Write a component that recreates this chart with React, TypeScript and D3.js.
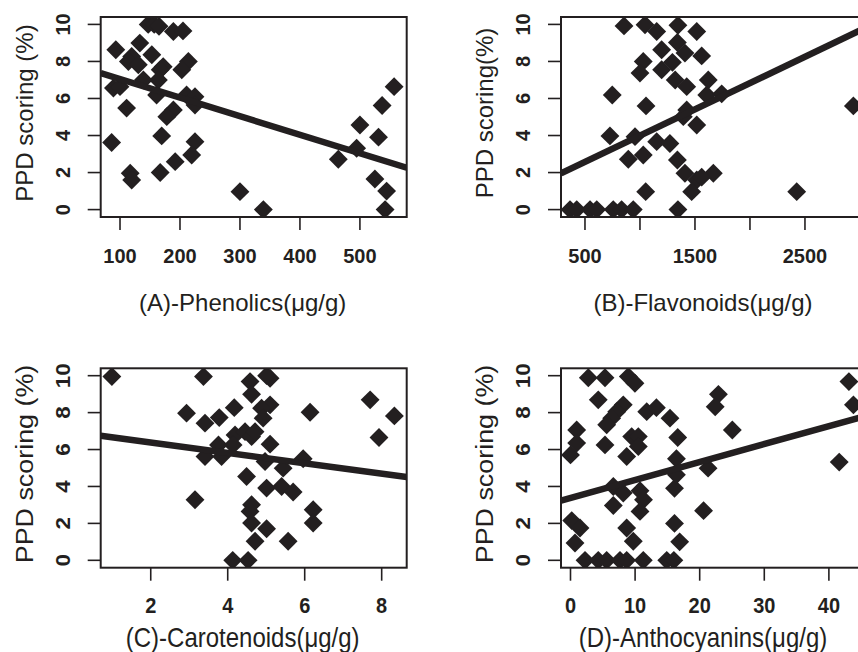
import * as d3 from 'd3';

// PPD scoring vs. compound content
const phenolicsX = [147, 157, 165, 189, 205, 93, 133, 119.5, 114, 130.5, 153, 172, 167, 164, 139, 214, 203, 89, 100, 161, 211, 225, 225, 111, 189, 178, 86, 169.5, 225, 219.5, 192, 117, 119.5, 167, 300, 339, 500, 531, 494.5, 464, 537, 557, 525, 544.5, 542];
const phenolicsY = [10, 10, 9.9, 9.62, 9.65, 8.63, 8.99, 8.27, 8.0, 7.82, 8.36, 7.72, 7.55, 7.0, 7.0, 8.0, 7.55, 6.56, 6.64, 6.19, 6.19, 6.1, 5.65, 5.48, 5.38, 5.02, 3.62, 3.98, 3.67, 2.95, 2.59, 1.96, 1.6, 2.0, 0.97, 0, 4.57, 3.91, 3.31, 2.72, 5.62, 6.64, 1.65, 1.0, 0];

const flavonoidsX = [855, 1046, 1152, 1345, 1516, 1197, 1340, 1030, 1000, 1197, 1295, 1320, 1409, 1561, 1425, 1621, 1607, 1743, 1425, 1394, 1516, 2940, 748, 1055, 727, 955, 894, 1030, 1152, 1272, 1340, 1409, 1516, 1667, 1561, 1470, 2425, 1052, 364, 425, 546, 607, 757, 833, 939, 1345];
const flavonoidsY = [9.92, 9.98, 9.62, 9.95, 9.62, 8.63, 9.02, 8.0, 7.37, 7.55, 7.95, 7.0, 8.45, 8.3, 6.64, 7.0, 6.19, 6.25, 5.38, 5.02, 4.57, 5.6, 6.19, 5.6, 3.98, 3.94, 2.72, 2.95, 3.67, 3.57, 2.68, 1.96, 1.6, 1.96, 1.75, 0.97, 0.97, 0.97, 0, 0, 0, 0, 0, 0, 0, 0];

const carotenoidsX = [0.99, 3.37, 4.58, 4.62, 2.93, 3.41, 3.78, 4.17, 4.19, 4.45, 4.62, 3.76, 3.41, 3.84, 4.14, 4.49, 3.15, 4.62, 4.58, 4.62, 4.71, 4.13, 4.53, 5.1, 5.01, 5.1, 4.88, 4.92, 6.14, 7.7, 8.33, 7.93, 4.71, 5.1, 4.97, 5.44, 5.96, 5.01, 5.4, 5.7, 6.22, 6.22, 5.01, 5.57];
const carotenoidsY = [9.95, 9.95, 9.68, 8.99, 7.97, 7.43, 7.73, 8.27, 6.79, 6.97, 6.7, 6.25, 5.62, 5.62, 6.25, 4.54, 3.28, 3.01, 2.65, 2.02, 1.03, 0, 0, 9.86, 10, 8.42, 8.24, 7.7, 8.02, 8.69, 7.82, 6.65, 6.97, 6.29, 5.35, 4.99, 5.5, 3.91, 4.0, 3.7, 2.74, 2.02, 1.71, 1.03];

const anthocyaninsX = [2.76, 5.34, 8.95, 9.98, 4.3, 8.17, 7.15, 6.38, 5.6, 11.8, 13.3, 15.4, 0.96, 0.96, 0, 5.34, 9.47, 10.5, 10.5, 8.7, 16.6, 6.63, 8.17, 10.76, 11.3, 6.63, 10.76, 0.19, 1.47, 0.7, 8.7, 9.72, 2.25, 4.3, 5.6, 7.66, 8.7, 11.27, 14.9, 16.0, 16.1, 16.9, 16.1, 16.4, 16.4, 21.3, 22.9, 22.4, 25.05, 20.6, 43.1, 43.8, 41.6];
const anthocyaninsY = [9.89, 9.89, 9.95, 9.59, 8.69, 8.42, 8.05, 7.7, 7.34, 8.05, 8.27, 7.7, 7.06, 6.35, 5.71, 6.25, 6.7, 6.7, 6.16, 5.62, 6.65, 4.0, 3.64, 3.77, 3.28, 2.97, 2.65, 2.15, 1.75, 0.94, 1.75, 1.03, 0, 0, 0, 0, 0, 0, 0, 0, 2.0, 1.0, 3.9, 5.5, 4.63, 4.99, 8.99, 8.32, 7.06, 2.69, 9.68, 8.42, 5.32];

// fitted lines: [intercept, slope]
const fitA = [8.05, -0.01002];
const fitB = [1.16, 0.002837];
const fitC = [6.94, -0.2805];
const fitD = [3.38, 0.0972];

const xTicksA = [100, 200, 300, 400, 500];
const xTicksB = [500, 1000, 1500, 2000, 2500];
const xLabelsB = [500, 1500, 2500];
const xTicksC = [2, 4, 6, 8];
const xTicksD = [0, 10, 20, 30, 40];
const yTicks = [0, 2, 4, 6, 8, 10];

const titles = ['(A)-Phenolics(μg/g)', '(B)-Flavonoids(μg/g)', '(C)-Carotenoids(μg/g)', '(D)-Anthocyanins(μg/g)'];
const yTitles = ['PPD scoring (%)', 'PPD scoring(%)', 'PPD scoring (%)', 'PPD scoring (%)'];

const INK = '#231f20';
const FONT = '"Liberation Sans", Arial, Helvetica, sans-serif';

// bottom row of the figure is slightly stretched vertically (sy)
const panels = [
  { id: 'a', xs: phenolicsX, ys: phenolicsY, fit: fitA, ticks: xTicksA, labels: xTicksA, dom: [67.8, 578], left: 100.7, top: 17, h: 200, tickLabY: 256, titleY: 303, sy: 1 },
  { id: 'b', xs: flavonoidsX, ys: flavonoidsY, fit: fitB, ticks: xTicksB, labels: xLabelsB, dom: [282, 3064], left: 561, top: 17, h: 200, tickLabY: 256, titleY: 303, sy: 1 },
  { id: 'c', xs: carotenoidsX, ys: carotenoidsY, fit: fitC, ticks: xTicksC, labels: xTicksC, dom: [0.7, 8.65], left: 100.7, top: 368.3, h: 199.4, tickLabY: 605, titleY: 638, sy: 1.12 },
  { id: 'd', xs: anthocyaninsX, ys: anthocyaninsY, fit: fitD, ticks: xTicksD, labels: xTicksD, dom: [-1.47, 45.9], left: 561, top: 368.3, h: 199.4, tickLabY: 605, titleY: 638, sy: 1.12 },
];

const W = 306;
const diamond = d3.symbol(d3.symbolSquare, 178)();

function Panel({ p, i }: { p: any; i: number }) {
  const x = d3.scaleLinear().domain(p.dom).range([p.left, p.left + W]);
  const y = d3.scaleLinear().domain([-0.4, 10.4]).range([p.top + p.h, p.top]);
  const bottom = p.top + p.h;
  const [b0, b1] = p.fit;
  const line = d3.line<number>().x((v) => x(v)).y((v) => y(b0 + b1 * v));
  const cx = p.left + W / 2 - 11;
  const cy = p.top + p.h / 2 - 4;
  const sc = `scale(1,${p.sy})`;
  return (
    <g>
      <clipPath id={`clip-${p.id}`}>
        <rect x={p.left} y={p.top} width={W} height={p.h} />
      </clipPath>
      <g clipPath={`url(#clip-${p.id})`}>
        {p.xs.map((v: number, k: number) => (
          <path key={k} d={diamond} fill={INK} transform={`translate(${x(v)},${y(p.ys[k])}) rotate(45)`} />
        ))}
        <path d={line(p.dom) || ''} stroke={INK} strokeWidth={6.5} fill="none" />
      </g>
      <rect x={p.left} y={p.top} width={W} height={p.h} fill="none" stroke={INK} strokeWidth={2} />
      {yTicks.map((t) => (
        <g key={t}>
          <line x1={p.left - 13} x2={p.left} y1={y(t)} y2={y(t)} stroke={INK} strokeWidth={1.6} />
          <text transform={`translate(${p.left - 38},${y(t)}) ${sc} rotate(-90)`} dy="0.35em" textAnchor="middle"
            fontFamily={FONT} fontWeight="bold" fontSize={20} fill={INK}>{t}</text>
        </g>
      ))}
      {p.ticks.map((t: number) => (
        <line key={t} x1={x(t)} x2={x(t)} y1={bottom} y2={bottom + 13} stroke={INK} strokeWidth={1.6} />
      ))}
      {p.labels.map((t: number) => (
        <text key={t} transform={`translate(${x(t)},${p.tickLabY}) ${sc}`} dy="0.35em" textAnchor="middle"
          fontFamily={FONT} fontWeight="bold" fontSize={20} fill={INK}>{t}</text>
      ))}
      <text transform={`translate(${cx},${p.titleY}) ${sc}`} dy="0.35em" textAnchor="middle"
        fontFamily={FONT} fontSize={24} fill={INK}>{titles[i]}</text>
      <text transform={`translate(${p.left - 76},${cy}) ${sc} rotate(-90)`} dy="0.35em" textAnchor="middle"
        fontFamily={FONT} fontSize={24} fill={INK}>{yTitles[i]}</text>
    </g>
  );
}

export default function App() {
  return (
    <svg width={858} height={652} style={{ position: 'absolute', left: 0, top: 0, background: '#fff' }}>
      <rect width={858} height={652} fill="#fff" />
      {panels.map((p, i) => (
        <Panel key={p.id} p={p} i={i} />
      ))}
    </svg>
  );
}
